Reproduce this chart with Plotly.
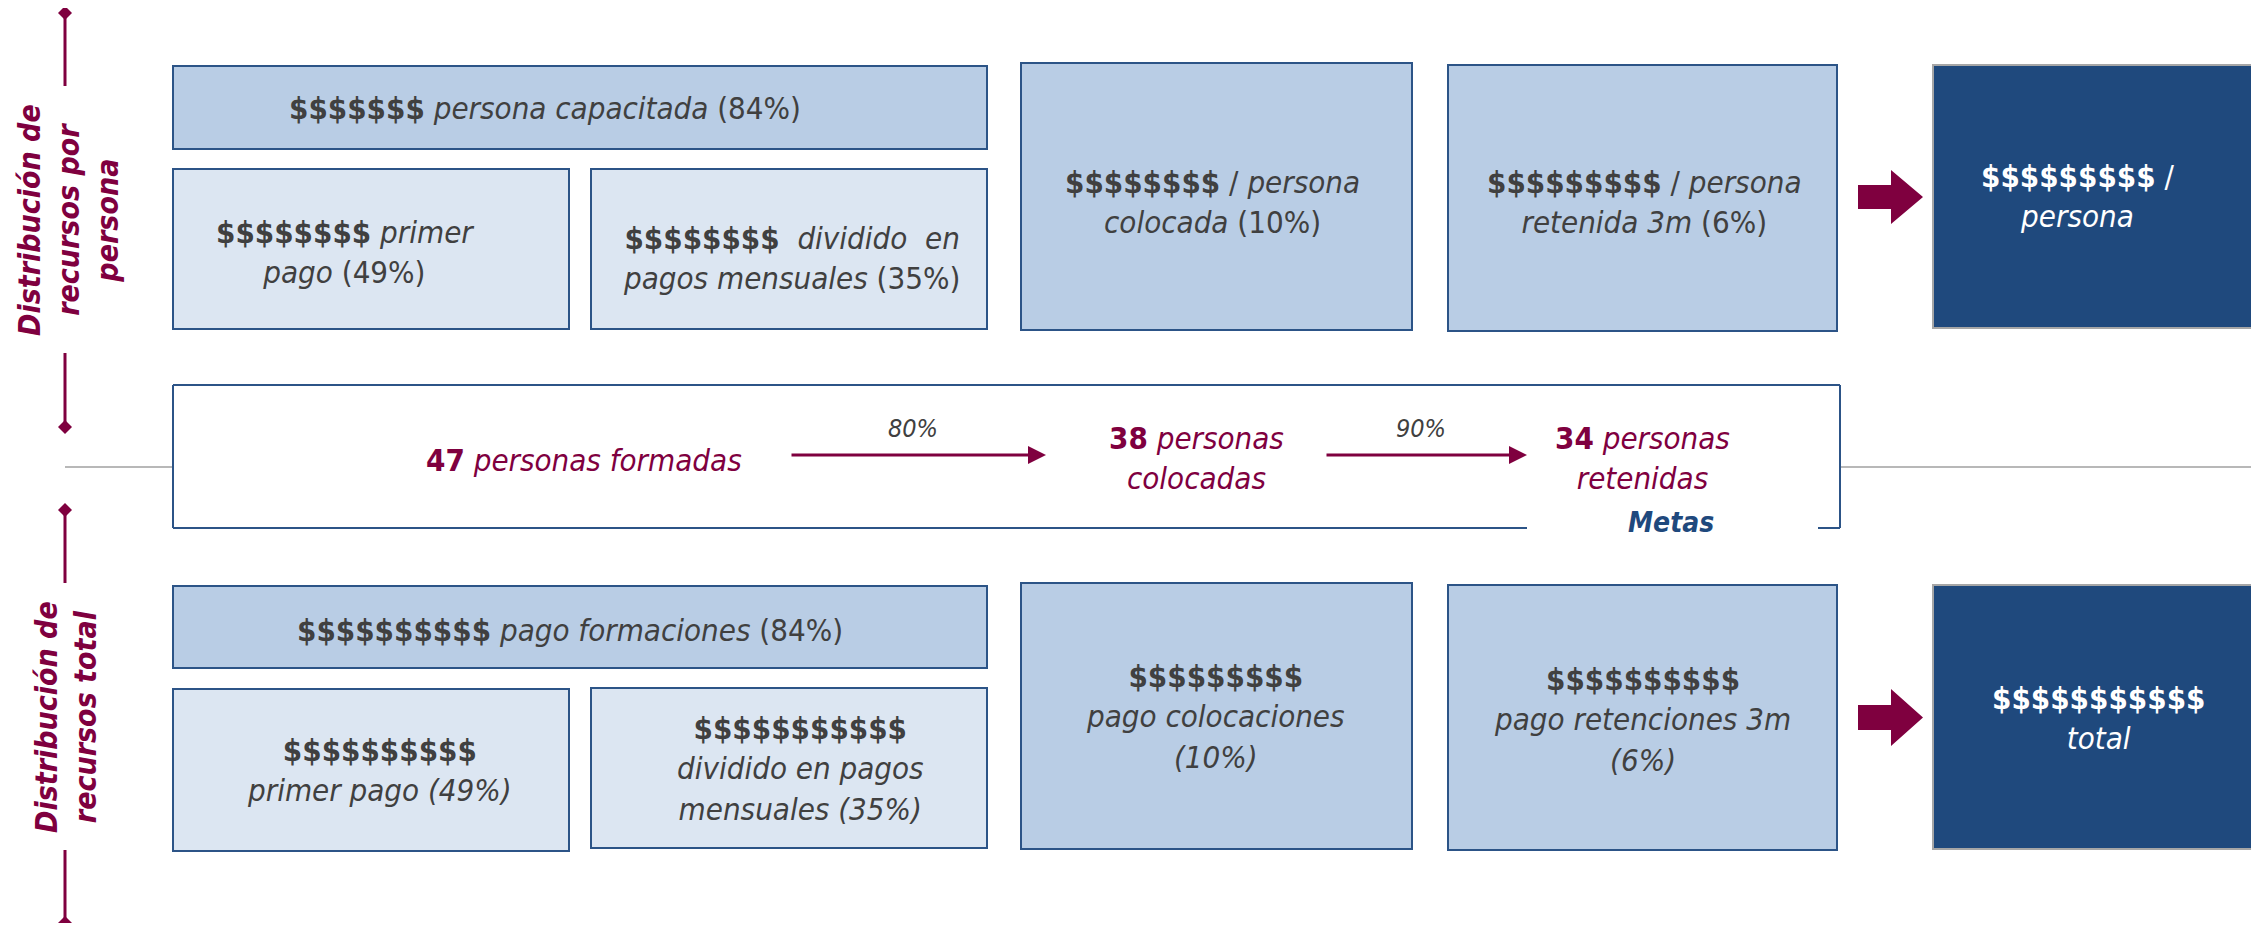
import plotly.graph_objects as go

W, H = 2259, 931
OFF = 8  # default page body margin

# ---- content ----
side_labels = ["Distribución de<br>recursos por<br>persona", "Distribución de<br>recursos total"]
top_texts = [
    "<b>$$$$$$$</b> <i>persona capacitada</i> (84%)",
    "<b>$$$$$$$$</b> <i>primer</i><br><i>pago</i> (49%)",
    "<b>$$$$$$$$</b>  <i>dividido  en</i><br><i>pagos mensuales</i> (35%)",
    "<b>$$$$$$$$</b> / <i>persona</i><br><i>colocada</i> (10%)",
    "<b>$$$$$$$$$</b> / <i>persona</i><br><i>retenida 3m</i> (6%)",
    "<b>$$$$$$$$$</b> /<br><i>persona</i>",
]
bottom_texts = [
    "<b>$$$$$$$$$$</b> <i>pago formaciones</i> (84%)",
    "<b>$$$$$$$$$$</b><br><i>primer pago (49%)</i>",
    "<b>$$$$$$$$$$$</b><br><i>dividido en pagos</i><br><i>mensuales (35%)</i>",
    "<b>$$$$$$$$$</b><br><i>pago colocaciones</i><br><i>(10%)</i>",
    "<b>$$$$$$$$$$</b><br><i>pago retenciones 3m</i><br><i>(6%)</i>",
    "<b>$$$$$$$$$$$</b><br><i>total</i>",
]
people_counts = [47, 38, 34]
people_labels = ["personas formadas", "personas<br>colocadas", "personas<br>retenidas"]
conversion_rates = ["80%", "90%"]
goal_label = "Metas"

# ---- styles ----
FONT = "DejaVu Sans Condensed, Liberation Sans Narrow, sans-serif"
MID = "#B9CDE5"
LIGHT = "#DCE6F2"
DARK = "#1F497D"
EDGE = "#2C5487"
BURG = "#7F003F"
TXT = "#404040"
FS = 31

fig = go.Figure()
shapes = []
ann = []

def rect(x0, y0, x1, y1, fill, line=EDGE, lw=2):
    shapes.append(dict(type="rect", x0=x0, y0=y0, x1=x1, y1=y1, fillcolor=fill,
                       line=dict(color=line, width=lw), layer="below"))

def text(x, y, s, color=TXT, size=FS, **kw):
    ann.append(dict(x=x, y=y, text=s, showarrow=False, font=dict(family=FONT, size=size, color=color),
                    xanchor="center", yanchor="middle", **kw))

def fat_arrow(x0, y0, y1):
    h = y1 - y0
    bx = x0 + 33
    xe = x0 + 65
    b0 = y0 + h * 0.28
    b1 = y0 + h * 0.72
    p = f"M {x0} {b0} L {bx} {b0} L {bx} {y0} L {xe} {(y0+y1)/2} L {bx} {y1} L {bx} {b1} L {x0} {b1} Z"
    shapes.append(dict(type="path", path=p, fillcolor=BURG, line=dict(width=0)))

# ---- top section ----
rect(173, 66, 987, 149, MID)
rect(173, 169, 569, 329, LIGHT)
rect(591, 169, 987, 329, LIGHT)
rect(1021, 63, 1412, 330, MID)
rect(1448, 65, 1837, 331, MID)
rect(1933, 65, 2262, 328, DARK, line="#A6A6A6")
fat_arrow(1858, 170, 224)

top_pos = [(545, 108), (345, 252), (791, 258), (1212, 202), (1644, 202), (2078, 196)]
for (x, y), s in zip(top_pos, top_texts):
    text(x, y, s, color="white" if s == top_texts[-1] else TXT)

# ---- bottom section ----
rect(173, 586, 987, 668, MID)
rect(173, 689, 569, 851, LIGHT)
rect(591, 688, 987, 848, LIGHT)
rect(1021, 583, 1412, 849, MID)
rect(1448, 585, 1837, 850, MID)
rect(1933, 585, 2262, 849, DARK, line="#A6A6A6")
fat_arrow(1858, 689, 746)

bot_pos = [(570, 630), (379, 770), (800, 768), (1215, 716), (1642, 719), (2098, 718)]
for (x, y), s in zip(bot_pos, bottom_texts):
    text(x, y, s, color="white" if s == bottom_texts[-1] else TXT)

# ---- middle section ----
gl = dict(color="#A0A0A0", width=1.5)
shapes.append(dict(type="line", x0=65, y0=467, x1=173, y1=467, line=gl))
shapes.append(dict(type="line", x0=1840, y0=467, x1=2255, y1=467, line=gl))
shapes.append(dict(type="rect", x0=173, y0=385, x1=1840, y1=528, fillcolor="white", line=dict(width=0)))
el = dict(color=EDGE, width=2)
for a in [(173, 385, 1840, 385), (173, 385, 173, 528), (1840, 385, 1840, 528),
          (173, 528, 1527, 528), (1818, 528, 1840, 528)]:
    shapes.append(dict(type="line", x0=a[0], y0=a[1], x1=a[2], y1=a[3], line=el))

mid_pos = [(584, 460), (1196, 458), (1642, 458)]
for (x, y), n, lab in zip(mid_pos, people_counts, people_labels):
    text(x, y, f"<b>{n}</b> <i>{lab}</i>", color=BURG)

arrows = [(790, 1046), (1325, 1527)]
for (x0, x1), r in zip(arrows, conversion_rates):
    ann.append(dict(x=x1, y=455, ax=x0, ay=455, axref="x", ayref="y", xref="x", yref="y",
                    showarrow=True, arrowhead=2, arrowsize=1.2, arrowwidth=3, arrowcolor=BURG, text=""))
    text((x0 + x1) / 2 - 5, 428, f"<i>{r}</i>", size=25)

text(1671, 522, f"<b><i>{goal_label}</i></b>", color=DARK, size=28)

# ---- left side labels ----
sl = dict(color=BURG, width=3)
for (y0, y1, y2, y3) in [(13, 86, 353, 427), (510, 583, 850, 923)]:
    shapes.append(dict(type="line", x0=65, y0=y0, x1=65, y1=y1, line=sl))
    shapes.append(dict(type="line", x0=65, y0=y2, x1=65, y1=y3, line=sl))
    for yy in (y0, y3):
        d = 7
        shapes.append(dict(type="path", path=f"M 65 {yy-d} L {65+d} {yy} L 65 {yy+d} L {65-d} {yy} Z",
                           fillcolor=BURG, line=dict(width=0)))

text(68, 220, f"<b><i>{side_labels[0]}</i></b>", color=BURG, size=30, textangle=-90)
text(66, 717, f"<b><i>{side_labels[1]}</i></b>", color=BURG, size=30, textangle=-90)

fig.update_layout(
    width=W - 2 * OFF, height=H - 2 * OFF, margin=dict(l=0, r=0, t=0, b=0),
    paper_bgcolor="white", plot_bgcolor="white",
    xaxis=dict(range=[OFF, W - OFF], visible=False, fixedrange=True),
    yaxis=dict(range=[H - OFF, OFF], visible=False, fixedrange=True),
    shapes=shapes, annotations=ann, showlegend=False,
)
fig.write_html("out.html")
